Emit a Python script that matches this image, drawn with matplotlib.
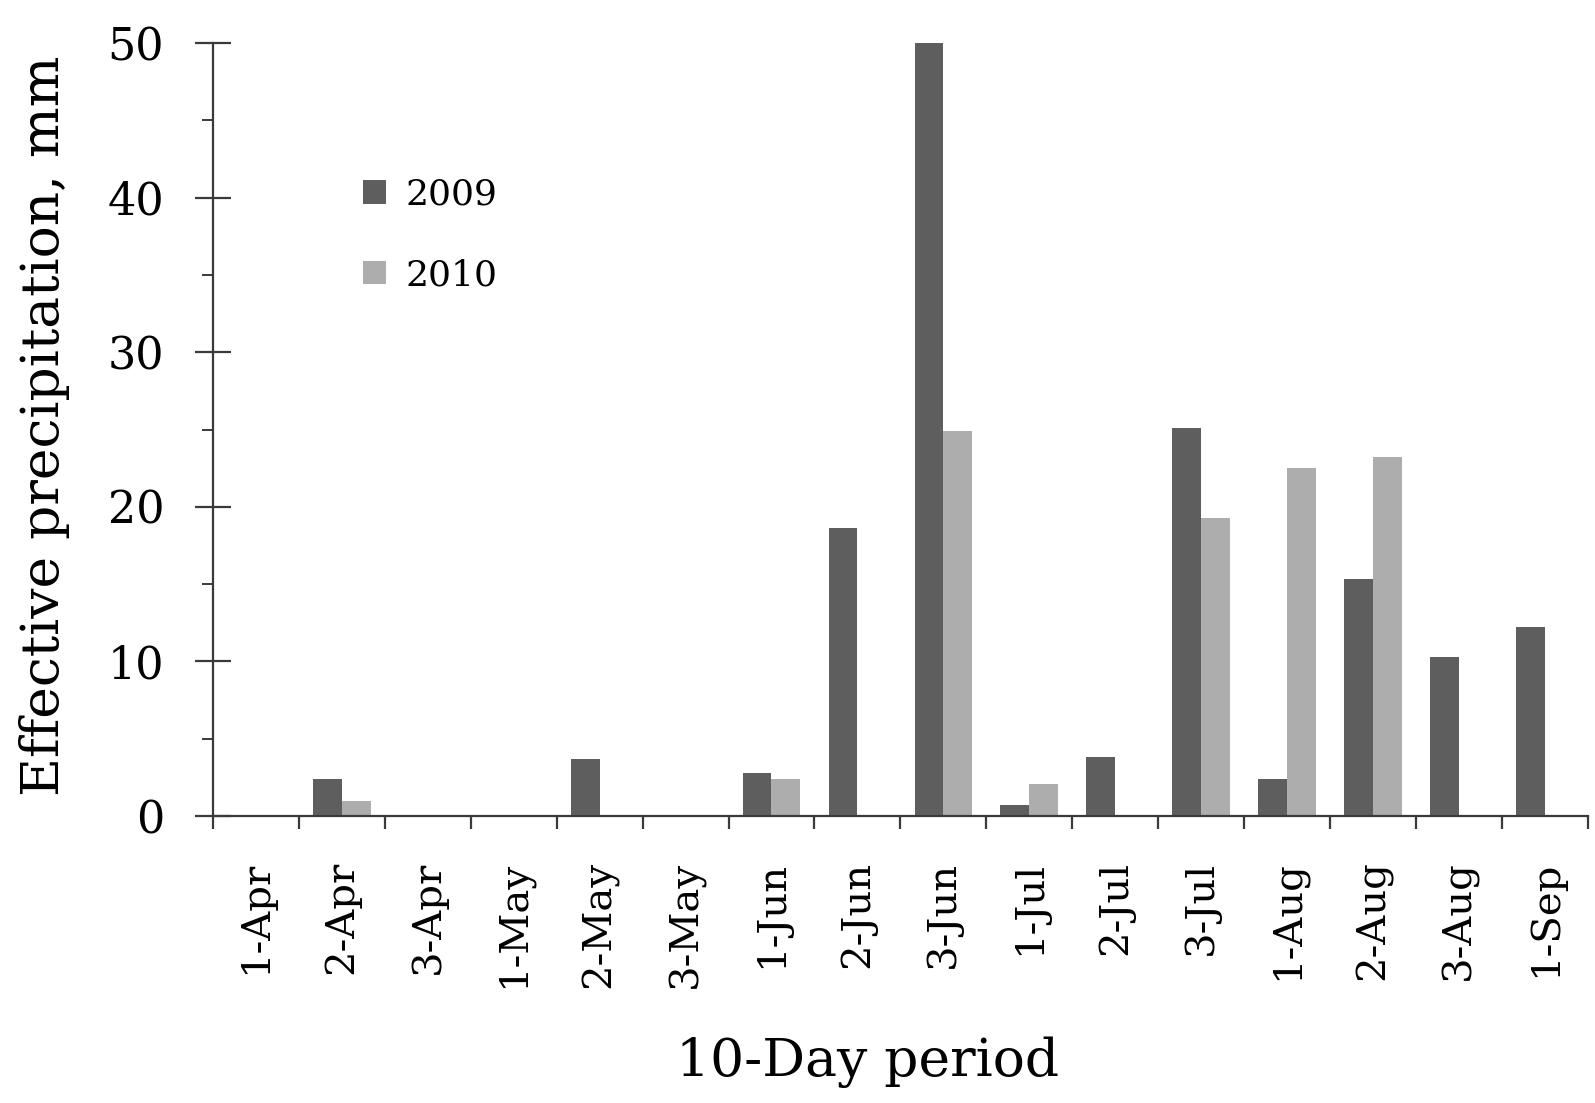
import matplotlib.pyplot as plt
import numpy as np
from matplotlib.ticker import MultipleLocator, FixedLocator

plt.rcParams['font.family'] = ['DejaVu Serif']

# 10-day periods and effective precipitation (mm)
periods = ['1-Apr', '2-Apr', '3-Apr', '1-May', '2-May', '3-May', '1-Jun', '2-Jun',
           '3-Jun', '1-Jul', '2-Jul', '3-Jul', '1-Aug', '2-Aug', '3-Aug', '1-Sep']
rain_2009 = [0, 2.4, 0, 0, 3.7, 0, 2.8, 18.6, 50.0, 0.7, 3.8, 25.1, 2.4, 15.3, 10.3, 12.2]
rain_2010 = [0, 1.0, 0, 0, 0, 0, 2.4, 0, 24.9, 2.1, 0, 19.3, 22.5, 23.2, 0, 0]

fig = plt.figure(figsize=(15.95, 11.03), dpi=100)
ax = fig.add_axes([0.1335, 0.2602, 0.862, 0.7008])

x = np.arange(len(periods))
w = 0.335
ax.bar(x - w / 2, rain_2009, w, color='#5e5e5e', label='2009')
ax.bar(x + w / 2, rain_2010, w, color='#adadad', label='2010')

ax.set_xlim(-0.5, len(periods) - 0.5)
ax.set_ylim(0, 50)

for s in ['top', 'right']:
    ax.spines[s].set_visible(False)
for s in ['left', 'bottom']:
    ax.spines[s].set_linewidth(1.6)
    ax.spines[s].set_color('#3a3a3a')

# labels at category centres, tick marks at boundaries
ax.set_xticks(x)
ax.set_xticklabels(periods, rotation=90, fontsize=29)
ax.xaxis.set_minor_locator(FixedLocator(np.arange(len(periods) + 1) - 0.5))
ax.tick_params(axis='x', which='major', length=0, pad=32)
ax.tick_params(axis='x', which='minor', direction='out', length=9, width=1.6, color='#3a3a3a')

ax.yaxis.set_major_locator(MultipleLocator(10))
ax.yaxis.set_minor_locator(MultipleLocator(5))
ax.tick_params(axis='y', which='major', direction='inout', length=26, width=1.6,
               color='#3a3a3a', labelsize=32, pad=22)
ax.tick_params(axis='y', which='minor', direction='out', length=8, width=1.4, color='#3a3a3a')

ax.set_ylabel('Effective precipitation, mm', fontsize=38.5)
ax.yaxis.set_label_coords(-0.104, 0.505)
ax.set_xlabel('10-Day period', fontsize=38.5)
ax.xaxis.set_label_coords(0.476, -0.285)

ax.legend(loc='upper left', bbox_to_anchor=(0.1095, 0.826), frameon=False, fontsize=26,
          handlelength=0.62, handleheight=0.62, handletextpad=0.55, labelspacing=1.3,
          borderpad=0, borderaxespad=0)

fig.savefig('out.png', dpi=100)
